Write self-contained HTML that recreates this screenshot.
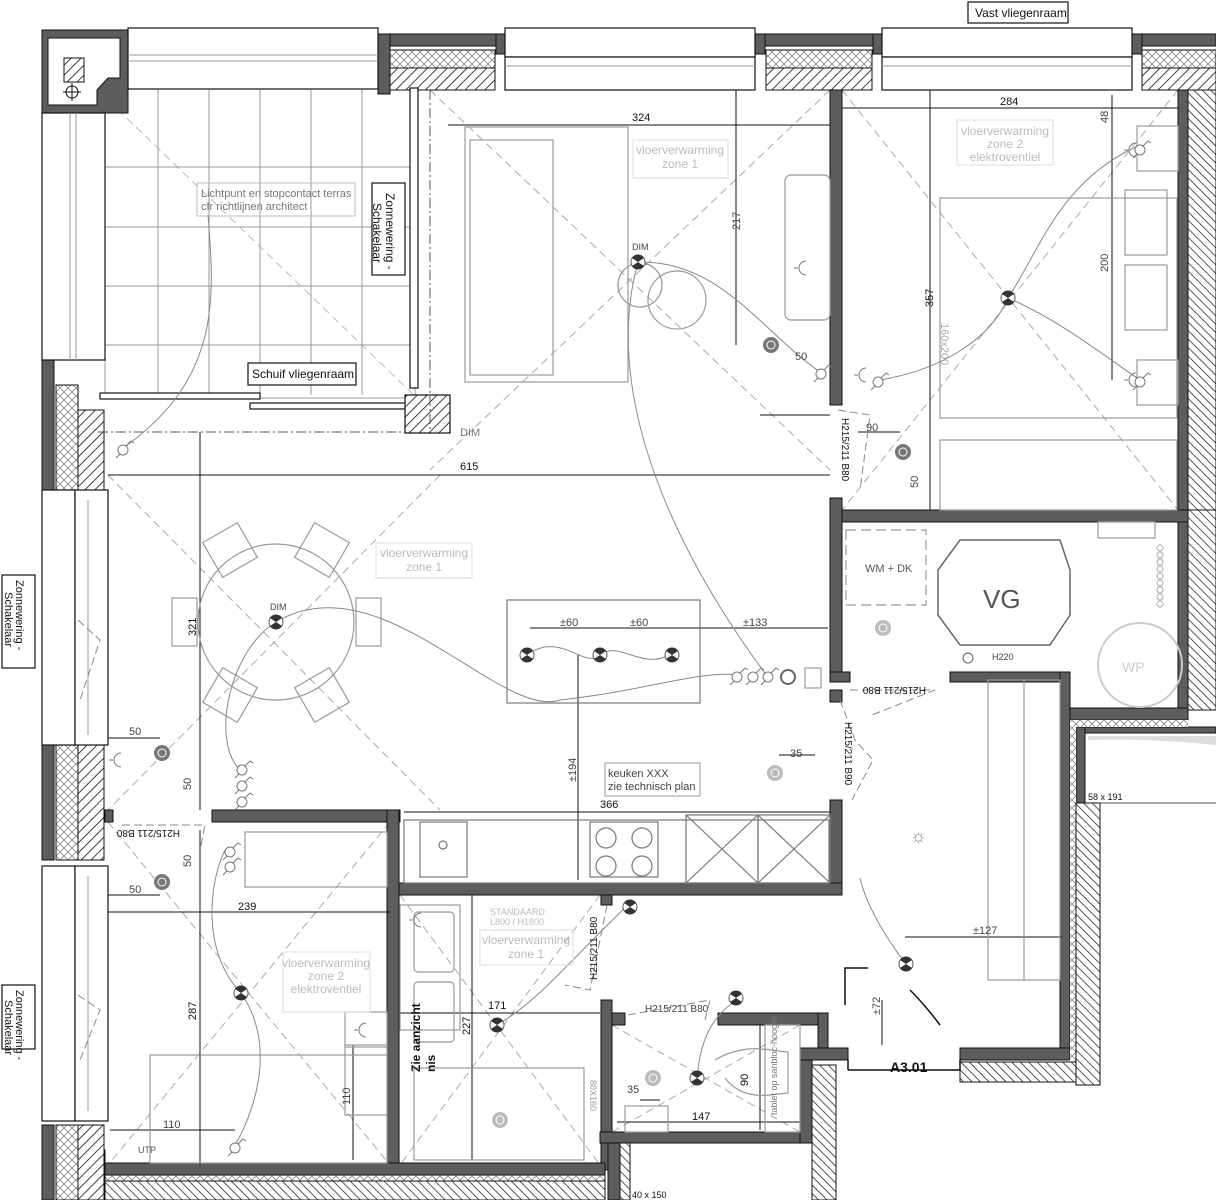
<!DOCTYPE html>
<html><head><meta charset="utf-8"><style>
html,body{margin:0;padding:0;background:#fff}
svg{display:block}
text{font-family:"Liberation Sans",sans-serif}
</style></head><body>
<svg width="1216" height="1200" viewBox="0 0 1216 1200" xmlns="http://www.w3.org/2000/svg">
<defs>
<pattern id="hat" width="7" height="7" patternUnits="userSpaceOnUse" patternTransform="rotate(45)"><rect width="7" height="7" fill="#fff"/><line x1="0" y1="0" x2="0" y2="7" stroke="#111" stroke-width="1.6"/></pattern>
<pattern id="hat2" width="6" height="6" patternUnits="userSpaceOnUse" patternTransform="rotate(-45)"><rect width="6" height="6" fill="#fff"/><line x1="0" y1="0" x2="0" y2="6" stroke="#111" stroke-width="1.4"/></pattern>
<pattern id="xh" width="8" height="8" patternUnits="userSpaceOnUse"><rect width="8" height="8" fill="#fff"/><path d="M0 0L8 8M8 0L0 8" stroke="#888" stroke-width="0.8"/></pattern>
<g id="lamp"><circle r="7" fill="#fff" stroke="#555"/><path d="M-6 -4 A7 7 0 0 1 6 -4 L0 0Z M-6 4 A7 7 0 0 0 6 4 L0 0Z" fill="#333"/></g>
<g id="spot"><circle r="8" fill="#777"/><circle r="4.5" fill="#fff"/><circle r="3.5" fill="#777"/></g>
<g id="spotg"><circle r="8" fill="#bbb"/><circle r="4.5" fill="#fff"/><circle r="3.5" fill="#bbb"/></g>
<g id="sw"><circle r="5" fill="#fff" stroke="#777"/><path d="M3 -4L8 -9L11 -7 M-3 4L-7 8" stroke="#777" fill="none"/></g>
<g id="soc"><path d="M6 -7A7 7 0 0 0 6 7" fill="none" stroke="#777"/><line x1="-2" y1="0" x2="-6" y2="0" stroke="#777"/></g>
</defs>

<!-- light dashed diagonals -->
<g stroke="#aaa" stroke-dasharray="8 5" stroke-width="1" fill="none">
<line x1="430" y1="90" x2="830" y2="470"/><line x1="830" y1="90" x2="430" y2="470"/>
<line x1="108" y1="475" x2="440" y2="810"/><line x1="440" y1="475" x2="108" y2="810"/>
<line x1="842" y1="90" x2="1178" y2="510"/><line x1="1178" y1="90" x2="842" y2="510"/>
<line x1="108" y1="822" x2="390" y2="1165"/><line x1="390" y1="822" x2="108" y2="1165"/>
<line x1="400" y1="895" x2="600" y2="1165"/><line x1="600" y1="895" x2="400" y2="1165"/>
<line x1="612" y1="1025" x2="800" y2="1132"/><line x1="800" y1="1025" x2="612" y2="1132"/>
<line x1="108" y1="100" x2="450" y2="430" stroke="#bbb"/>
</g>

<!-- terrace tiles -->
<g stroke="#999" stroke-width="1" fill="none">
<rect x="105" y="88" width="310" height="310"/>
<line x1="158" y1="90" x2="158" y2="395"/><line x1="209" y1="90" x2="209" y2="395"/><line x1="260" y1="90" x2="260" y2="395"/><line x1="311" y1="90" x2="311" y2="395"/><line x1="362" y1="90" x2="362" y2="395"/>
<line x1="105" y1="167" x2="415" y2="167"/><line x1="105" y1="227" x2="415" y2="227"/><line x1="105" y1="286" x2="415" y2="286"/><line x1="105" y1="345" x2="415" y2="345"/>
</g>

<!-- outer walls gray -->
<g fill="#5d5d5d" stroke="#111" stroke-width="1">
<rect x="42" y="30" width="86" height="83"/>
<path d="M48 38H120V78H108L97 90V105H48Z" fill="#fff"/>
<rect x="378" y="34" width="127" height="12"/><rect x="378" y="34" width="12" height="60"/><rect x="496" y="34" width="9" height="20"/>
<rect x="755" y="34" width="127" height="12"/><rect x="755" y="34" width="10" height="20"/><rect x="873" y="34" width="9" height="20"/>
<rect x="1132" y="34" width="84" height="12"/><rect x="1132" y="34" width="10" height="20"/>
<rect x="42" y="360" width="12" height="130"/><rect x="42" y="745" width="12" height="115"/><rect x="42" y="1125" width="12" height="75"/>
<rect x="1178" y="90" width="10" height="630"/>
<rect x="830" y="90" width="12" height="315"/>
<rect x="830" y="498" width="12" height="180"/>
<rect x="842" y="510" width="346" height="12"/>
<rect x="830" y="672" width="20" height="10"/><rect x="950" y="672" width="120" height="10"/>
<rect x="1060" y="672" width="10" height="388"/>
<rect x="1070" y="708" width="118" height="12"/>
<rect x="1076" y="727" width="140" height="6"/>
<rect x="1076" y="727" width="9" height="76"/>
<rect x="830" y="690" width="12" height="12"/>
<rect x="830" y="800" width="12" height="95"/>
<rect x="387" y="883" width="455" height="12"/>
<rect x="105" y="810" width="8" height="12"/><rect x="212" y="810" width="188" height="12"/>
<rect x="387" y="810" width="12" height="360"/>
<rect x="601" y="895" width="11" height="10"/><rect x="601" y="1000" width="11" height="170"/>
<rect x="612" y="1013" width="13" height="12"/><rect x="718" y="1013" width="110" height="12"/>
<rect x="818" y="1013" width="10" height="45"/><rect x="800" y="1048" width="48" height="12"/>
<rect x="960" y="1048" width="110" height="12"/>
<rect x="600" y="1132" width="200" height="11"/>
<rect x="105" y="1163" width="500" height="12"/>
<rect x="92" y="1150" width="13" height="50"/>
<rect x="608" y="1143" width="12" height="57"/>
<rect x="800" y="1060" width="12" height="83"/>
</g>
<rect x="1070" y="720" width="118" height="7" fill="url(#xh)"/>
<rect x="1070" y="727" width="6" height="340" fill="url(#xh)"/>
<path d="M1088 736 L1216 736 L1216 745 Q1150 738 1088 740Z" fill="#ddd"/>
<line x1="1085" y1="803" x2="1216" y2="803" stroke="#555"/>

<!-- hatched insulation -->
<g stroke="#111" stroke-width="1">
<rect x="390" y="50" width="105" height="18" fill="url(#xh)"/><rect x="390" y="68" width="105" height="22" fill="url(#hat)"/>
<rect x="766" y="50" width="106" height="18" fill="url(#xh)"/><rect x="766" y="68" width="106" height="22" fill="url(#hat)"/>
<rect x="1142" y="50" width="74" height="18" fill="url(#xh)"/><rect x="1142" y="68" width="74" height="22" fill="url(#hat)"/>
<rect x="1188" y="90" width="28" height="420" fill="url(#hat2)"/>
<rect x="1188" y="510" width="28" height="200" fill="url(#hat2)"/>
<rect x="1076" y="803" width="24" height="282" fill="url(#hat2)"/>
<rect x="56" y="385" width="22" height="105" fill="url(#xh)"/><rect x="78" y="410" width="26" height="80" fill="url(#hat)"/>
<rect x="56" y="745" width="22" height="115" fill="url(#xh)"/><rect x="78" y="745" width="26" height="115" fill="url(#hat)"/>
<rect x="56" y="1125" width="22" height="75" fill="url(#xh)"/><rect x="78" y="1125" width="26" height="75" fill="url(#hat)"/>
<rect x="105" y="1175" width="500" height="6" fill="url(#xh)"/><rect x="105" y="1181" width="500" height="19" fill="url(#hat2)"/>
<rect x="620" y="1143" width="10" height="57" fill="url(#hat2)"/>
<rect x="812" y="1065" width="24" height="135" fill="url(#hat2)"/>
<rect x="960" y="1062" width="116" height="20" fill="url(#hat2)"/>
<rect x="64" y="58" width="20" height="24" fill="url(#hat)"/>
</g>
<circle cx="72" cy="92" r="6" fill="none" stroke="#111"/><line x1="63" y1="92" x2="81" y2="92" stroke="#111"/><line x1="72" y1="83" x2="72" y2="101" stroke="#111"/>

<!-- windows -->
<g fill="#fff" stroke="#111" stroke-width="1.2">
<rect x="128" y="28" width="250" height="61"/>
<rect x="505" y="28" width="250" height="29"/><rect x="505" y="57" width="250" height="33"/>
<rect x="882" y="28" width="250" height="29"/><rect x="882" y="57" width="250" height="33"/>
<rect x="42" y="113" width="63" height="247"/>
<rect x="42" y="490" width="33" height="255"/><rect x="75" y="490" width="33" height="255"/>
<rect x="42" y="866" width="33" height="255"/><rect x="75" y="866" width="33" height="255"/>
</g>
<g stroke="#999" fill="none">
<line x1="128" y1="55" x2="378" y2="55"/><line x1="128" y1="61" x2="378" y2="61"/>
<line x1="70" y1="113" x2="70" y2="360"/><line x1="76" y1="113" x2="76" y2="360"/>
<line x1="505" y1="66" x2="755" y2="66"/><line x1="882" y1="66" x2="1132" y2="66"/>
<line x1="88" y1="500" x2="88" y2="735"/><line x1="88" y1="876" x2="88" y2="1111"/>
</g>
<!-- terrace sliding door frames -->
<g stroke="#111" fill="#fff" stroke-width="1.2">
<rect x="410" y="88" width="8" height="300"/>
<rect x="100" y="393" width="160" height="6"/><rect x="250" y="403" width="165" height="6"/>
<rect x="405" y="395" width="45" height="38" fill="url(#hat)"/>
</g>
<line x1="98" y1="432" x2="405" y2="432" stroke="#555" stroke-dasharray="10 3 2 3"/>
<line x1="430" y1="90" x2="430" y2="430" stroke="#555" stroke-dasharray="10 3 2 3"/>

<!-- dimension lines -->
<g stroke="#111" stroke-width="1" fill="none">
<line x1="108" y1="475" x2="830" y2="475"/>
<line x1="448" y1="125" x2="830" y2="125"/>
<line x1="842" y1="108" x2="1178" y2="108"/>
<line x1="736" y1="90" x2="736" y2="345"/>
<line x1="930" y1="90" x2="930" y2="510"/>
<line x1="1112" y1="95" x2="1112" y2="380"/>
<line x1="200" y1="432" x2="200" y2="810"/>
<line x1="108" y1="912" x2="390" y2="912"/>
<line x1="200" y1="830" x2="200" y2="1165"/>
<line x1="400" y1="1013" x2="600" y2="1013"/>
<line x1="472" y1="895" x2="472" y2="1160"/>
<line x1="404" y1="812" x2="830" y2="812"/>
<line x1="578" y1="655" x2="578" y2="880"/>
<line x1="530" y1="628" x2="828" y2="628"/>
<line x1="905" y1="937" x2="1062" y2="937"/>
<line x1="617" y1="1122" x2="800" y2="1122"/>
<line x1="760" y1="1025" x2="760" y2="1130"/>
<line x1="110" y1="1130" x2="235" y2="1130"/>
<line x1="353" y1="1045" x2="353" y2="1160"/>
<line x1="882" y1="1000" x2="882" y2="1045"/>
<line x1="760" y1="415" x2="830" y2="415"/>
<line x1="108" y1="738" x2="160" y2="738"/><line x1="108" y1="895" x2="160" y2="895"/>
<line x1="779" y1="755" x2="815" y2="755"/>
<line x1="640" y1="1100" x2="660" y2="1100"/>
<line x1="858" y1="432" x2="900" y2="432"/>
</g>

<!-- furniture gray -->
<g stroke="#999" stroke-width="1.2" fill="none">
<rect x="465" y="127" width="163" height="255"/><rect x="470" y="140" width="83" height="235"/>
<rect x="785" y="175" width="45" height="145" rx="6"/>
<circle cx="276" cy="622" r="78"/>
<rect x="172" y="598" width="25" height="48"/><rect x="356" y="598" width="25" height="48"/>
<rect x="210" y="530" width="40" height="40" transform="rotate(-30 230 550)"/><rect x="302" y="530" width="40" height="40" transform="rotate(30 322 550)"/>
<rect x="210" y="675" width="40" height="40" transform="rotate(30 230 695)"/><rect x="302" y="675" width="40" height="40" transform="rotate(-30 322 695)"/>
<circle cx="677" cy="300" r="29"/><circle cx="640" cy="285" r="22"/>
<rect x="940" y="198" width="237" height="220"/><rect x="1125" y="190" width="42" height="65"/><rect x="1125" y="265" width="42" height="65"/>
<rect x="1137" y="126" width="41" height="45"/><rect x="1137" y="360" width="41" height="45"/>
<rect x="940" y="440" width="237" height="70"/>
<rect x="245" y="832" width="142" height="55"/>
<rect x="150" y="1055" width="237" height="108"/><rect x="345" y="1045" width="42" height="70"/><rect x="345" y="1012" width="42" height="35"/>
<rect x="400" y="905" width="60" height="125"/><rect x="414" y="912" width="40" height="60" rx="4"/><rect x="414" y="982" width="40" height="60" rx="4"/>
<rect x="414" y="1068" width="170" height="92"/>
<rect x="988" y="680" width="72" height="300"/><line x1="1024" y1="680" x2="1024" y2="980"/>
<rect x="846" y="530" width="80" height="75" stroke-dasharray="10 5"/>
<circle cx="1140" cy="665" r="42" stroke="#ccc" stroke-width="2"/>
<rect x="1098" y="522" width="57" height="16"/>
<path d="M715 1060 Q740 1045 770 1050 L788 1052 L788 1093 L770 1095 Q740 1098 725 1078" />
<rect x="625" y="1106" width="43" height="26"/>
<rect x="765" y="1025" width="35" height="107"/>
</g>
<polygon points="960,540 1060,540 1070,570 1070,615 1050,645 960,645 938,615 938,570" fill="#fff" stroke="#666" stroke-width="1.5"/>
<g stroke="#777" stroke-width="1.2" fill="none">
<rect x="507" y="600" width="193" height="103"/>
<rect x="404" y="820" width="425" height="63"/>
<rect x="420" y="822" width="47" height="55"/><circle cx="443" cy="845" r="4"/>
<rect x="590" y="822" width="68" height="55"/><circle cx="606" cy="838" r="10"/><circle cx="642" cy="838" r="10"/><circle cx="606" cy="866" r="10"/><circle cx="642" cy="866" r="10"/>
<rect x="686" y="815" width="72" height="68"/><path d="M686 815L758 883M758 815L686 883"/>
<rect x="758" y="815" width="72" height="68"/><path d="M758 815L830 883M830 815L758 883"/>
</g>
<g stroke="#aaa" fill="none">
<circle cx="1160" cy="548" r="3"/><circle cx="1160" cy="555" r="3"/><circle cx="1160" cy="562" r="3"/><circle cx="1160" cy="569" r="3"/><circle cx="1160" cy="576" r="3"/><circle cx="1160" cy="583" r="3"/><circle cx="1160" cy="590" r="3"/><circle cx="1160" cy="597" r="3"/><circle cx="1160" cy="604" r="3"/>
</g>

<!-- doors -->
<g stroke="#888" fill="none" stroke-dasharray="8 4">
<path d="M838 410 L870 415 L860 490"/>
<path d="M122 825 L205 825 L200 850"/>
<path d="M850 690 L935 690 L872 715"/>
<path d="M840 700 L855 740 L873 760 L852 800"/>
<path d="M607 905 L590 990 L565 985"/>
<path d="M628 1015 L710 1000 L705 1020"/>
<path d="M78 620 L100 640 L80 700"/><path d="M78 995 L100 1010 L80 1060"/>
</g>
<path d="M845 1005V968H868 M910 990 Q925 1005 940 1025 M848 1060V1070 M960 1060V1070 M848 1070H960" stroke="#111" stroke-width="1.5" fill="none"/>

<!-- wires -->
<g stroke="#888" fill="none" stroke-width="1">
<path d="M638 262 C600 400 680 560 770 680"/>
<path d="M638 262 C720 260 760 330 820 372"/>
<path d="M276 622 C380 560 500 720 560 700 C650 690 700 670 740 675"/>
<path d="M276 622 C230 650 210 740 240 770"/>
<path d="M208 215 C215 300 220 380 123 448"/>
<path d="M1008 298 C1040 250 1060 180 1140 145"/><path d="M1008 298 C1060 320 1110 360 1140 380"/>
<path d="M1008 298 C990 340 940 370 880 380"/>
<path d="M241 993 C200 950 210 880 225 850"/><path d="M241 993 C280 1050 250 1120 235 1145"/>
<path d="M497 1025 C540 1000 570 960 628 905"/>
<path d="M906 964 C880 930 865 900 860 878"/>
<path d="M697 1080 C700 1030 720 1010 740 998"/>
<path d="M527 655 C560 630 585 670 600 655 C620 640 640 670 670 655"/>
</g>

<!-- lights -->
<use href="#lamp" x="638" y="262"/><use href="#lamp" x="276" y="622"/><use href="#lamp" x="1008" y="298"/>
<use href="#lamp" x="527" y="655"/><use href="#lamp" x="600" y="655"/><use href="#lamp" x="672" y="655"/>
<use href="#lamp" x="241" y="993"/><use href="#lamp" x="497" y="1025"/><use href="#lamp" x="906" y="964"/><use href="#lamp" x="697" y="1078"/>
<use href="#lamp" x="630" y="907"/><use href="#lamp" x="736" y="998"/>
<use href="#spot" x="771" y="345"/><use href="#spot" x="903" y="452"/><use href="#spot" x="162" y="753"/><use href="#spot" x="162" y="882"/>
<use href="#spotg" x="775" y="773"/><use href="#spotg" x="883" y="628"/><use href="#spotg" x="653" y="1078"/><use href="#spotg" x="500" y="1120"/>
<use href="#sw" x="821" y="374"/><use href="#sw" x="878" y="382"/><use href="#sw" x="123" y="450"/>
<use href="#sw" x="737" y="677"/><use href="#sw" x="753" y="677"/><use href="#sw" x="768" y="677"/>
<use href="#sw" x="1140" y="150"/><use href="#sw" x="1140" y="382"/>
<use href="#sw" x="242" y="770"/><use href="#sw" x="242" y="786"/><use href="#sw" x="242" y="802"/>
<use href="#sw" x="230" y="852"/><use href="#sw" x="230" y="867"/><use href="#sw" x="235" y="1148"/>
<use href="#soc" x="800" y="268"/><use href="#soc" x="1130" y="150"/><use href="#soc" x="1130" y="380"/><use href="#soc" x="360" y="1030"/><use href="#soc" x="115" y="760"/><use href="#soc" x="415" y="920"/><use href="#soc" x="860" y="375"/>
<circle cx="788" cy="677" r="7" fill="none" stroke="#666" stroke-width="2"/><rect x="805" y="668" width="16" height="20" fill="none" stroke="#888"/>
<circle cx="968" cy="658" r="5" fill="none" stroke="#666"/>
<text x="910" y="842" font-size="18" fill="#888">☼</text>

<!-- labels boxes -->
<g stroke="#111" stroke-width="1.2" fill="#fff">
<rect x="968" y="2" width="100" height="21"/>
<rect x="372" y="183" width="33" height="92"/>
<rect x="248" y="363" width="108" height="22"/>
<rect x="2" y="575" width="33" height="93"/>
<rect x="2" y="985" width="33" height="64"/>
</g>
<g stroke="#bbb" fill="none">
<rect x="197" y="183" width="158" height="33"/>
<rect x="633" y="140" width="95" height="38" stroke="#ddd"/>
<rect x="376" y="543" width="96" height="35" stroke="#ddd"/>
<rect x="957" y="120" width="96" height="45" stroke="#ddd"/>
<rect x="283" y="952" width="87" height="60" stroke="#ddd"/>
<rect x="480" y="930" width="93" height="35" stroke="#ddd"/>
<rect x="605" y="763" width="95" height="33" stroke="#999"/>
</g>
<g font-size="11" fill="#111">
<text x="975" y="17" font-size="12">Vast vliegenraam</text>
<text x="252" y="378" font-size="12">Schuif vliegenraam</text>
<text transform="translate(386,193) rotate(90)" font-size="12">Zonnewering -</text>
<text transform="translate(373,203) rotate(90)" font-size="12">Schakelaar</text>
<text transform="translate(16,580) rotate(90)" font-size="11">Zonnewering -</text>
<text transform="translate(5,592) rotate(90)" font-size="11">Schakelaar</text>
<text transform="translate(16,990) rotate(90)" font-size="11">Zonnewering -</text>
<text transform="translate(5,1000) rotate(90)" font-size="11">Schakelaar</text>
<text x="201" y="197" fill="#777">Lichtpunt en stopcontact terras</text>
<text x="201" y="210" fill="#777">cfr richtlijnen architect</text>
<text x="608" y="777" fill="#444">keuken XXX</text><text x="608" y="790" fill="#444">zie technisch plan</text>
<text x="460" y="470">615</text><text x="632" y="121">324</text><text x="1000" y="105">284</text>
<text x="600" y="808">366</text><text x="238" y="910">239</text><text x="488" y="1009">171</text><text x="692" y="1120">147</text>
<text x="973" y="934" fill="#444">±127</text>
<text x="560" y="626" fill="#444">±60</text><text x="630" y="626" fill="#444">±60</text><text x="743" y="626" fill="#444">±133</text>
<text x="795" y="360" fill="#444">50</text><text x="866" y="431" fill="#444">90</text><text x="129" y="735" fill="#444">50</text><text x="129" y="893" fill="#444">50</text><text x="790" y="757" fill="#444">35</text><text x="627" y="1093" fill="#444">35</text><text x="163" y="1128" fill="#444">110</text>
<text x="460" y="436" fill="#777" font-family="DejaVu Sans Mono,monospace">DIM</text>
<text x="632" y="250" font-size="9" fill="#444">DIM</text><text x="270" y="610" font-size="9" fill="#444">DIM</text>
<text transform="translate(740,230) rotate(-90)" fill="#444">217</text>
<text transform="translate(933,307) rotate(-90)">357</text>
<text transform="translate(1108,272) rotate(-90)" fill="#444">200</text>
<text transform="translate(1108,123) rotate(-90)" fill="#444">48</text>
<text transform="translate(196,636) rotate(-90)">321</text>
<text transform="translate(196,1020) rotate(-90)">287</text>
<text transform="translate(470,1035) rotate(-90)">227</text>
<text transform="translate(576,782) rotate(-90)" fill="#444">±194</text>
<text transform="translate(350,1105) rotate(-90)" fill="#444">110</text>
<text transform="translate(748,1086) rotate(-90)">90</text>
<text transform="translate(880,1015) rotate(-90)" fill="#444">±72</text>
<text transform="translate(191,867) rotate(-90)" fill="#444">50</text>
<text transform="translate(191,790) rotate(-90)" fill="#444">50</text>
<text transform="translate(918,488) rotate(-90)" fill="#444">50</text>
<text transform="translate(941,323) rotate(90)" fill="#aaa">160x200</text>
<text transform="translate(842,418) rotate(90)" font-size="10">H215/211 B80</text>
<text transform="translate(845,722) rotate(90)" font-size="10">H215/211 B90</text>
<text transform="translate(926,687) rotate(180)" font-size="10">H215/211 B80</text>
<text transform="translate(180,830) rotate(180)" font-size="10">H215/211 B80</text>
<text transform="translate(597,980) rotate(-90)" font-size="10">H215/211 B80</text>
<text x="645" y="1012" font-size="10" fill="#444">H215/211 B80</text>
<text transform="translate(420,1072) rotate(-90)" font-size="12" font-weight="bold">Zie aanzicht</text>
<text transform="translate(435,1072) rotate(-90)" font-size="12" font-weight="bold">nis</text>
<text x="890" y="1072" font-size="14" font-weight="bold">A3.01</text>
<text x="983" y="608" font-size="26" fill="#555">VG</text>
<text x="1122" y="672" font-size="14" fill="#ccc">WP</text>
<text x="865" y="572" fill="#555">WM + DK</text>
<text x="992" y="660" font-size="9" fill="#444">H220</text>
<text x="1088" y="800" font-size="9">58 x 191</text>
<text x="632" y="1198" font-size="9">40 x 150</text>
<text x="490" y="915" font-size="9" fill="#bbb">STANDAARD</text><text x="490" y="925" font-size="9" fill="#bbb">L800 / H1800</text>
<text transform="translate(777,1115) rotate(-90)" font-size="9" fill="#777">tablet op sanbloc-hoogte</text>
<text transform="translate(590,1080) rotate(90)" font-size="9" fill="#999">80X160</text>
<text x="138" y="1153" font-size="9" fill="#555">UTP</text>
</g>
<g font-size="12" fill="#bbb" text-anchor="middle">
<text x="680" y="154">vloerverwarming</text><text x="680" y="168">zone 1</text>
<text x="424" y="557">vloerverwarming</text><text x="424" y="571">zone 1</text>
<text x="526" y="944">vloerverwarming</text><text x="526" y="958">zone 1</text>
<text x="1005" y="135">vloerverwarming</text><text x="1005" y="148">zone 2</text><text x="1005" y="161">elektroventiel</text>
<text x="326" y="967">vloerverwarming</text><text x="326" y="980">zone 2</text><text x="326" y="993">elektroventiel</text>
</g>
</svg>
</body></html>
